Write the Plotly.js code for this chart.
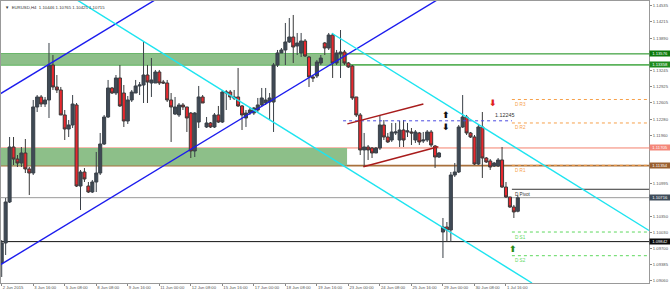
<!DOCTYPE html>
<html><head><meta charset="utf-8">
<script src="https://cdn.plot.ly/plotly-3.0.1.min.js"></script>
<style>html,body{margin:0;padding:0;background:#fff;}#chart{width:670px;height:292px;}</style>
</head><body><div id="chart"></div>
<script>
// ---- H4 candles, EURUSD 2 Jun - 1 Jul 2015 ----
const opens = [1.09417,1.09815,1.10630,1.11724,1.11485,1.11406,1.11605,1.11287,1.11207,1.12520,
1.12719,1.12579,1.12659,1.13355,1.12918,1.12858,1.12361,1.12082,1.12162,1.12560,
1.10948,1.11227,1.10948,1.10829,1.11028,1.11207,1.11784,1.12321,1.12898,1.12798,
1.13097,1.12798,1.12241,1.12659,1.12798,1.12938,1.12957,1.13156,1.12997,1.12997,
1.13216,1.13017,1.12997,1.12659,1.12380,1.12361,1.12560,1.12520,1.12400,1.11645,
1.12221,1.12719,1.12122,1.12202,1.12122,1.12361,1.12221,1.12798,1.12818,1.12719,
1.12719,1.12540,1.12301,1.12400,1.12400,1.12460,1.12560,1.12599,1.12619,1.12619,
1.13355,1.13594,1.13654,1.13813,1.13912,1.13733,1.13594,1.13833,1.13514,1.13117,
1.13136,1.13395,1.13793,1.13693,1.13952,1.13395,1.13574,1.13614,1.13395,1.13335,
1.12719,1.12361,1.11665,1.11724,1.11704,1.11605,1.11704,1.12162,1.11923,1.11863,
1.12003,1.11863,1.12062,1.12023,1.12023,1.11863,1.12003,1.11844,1.11863,1.12023,
1.11744,1.11525,1.10033,1.10133,1.10073,1.11167,1.11227,1.12122,1.12321,1.12003,
1.11923,1.11386,1.12122,1.11505,1.11446,1.11346,1.11346,1.11466,1.10928,1.10730,
1.10531,1.10446];
const highs = [1.09874,1.10710,1.11923,1.11923,1.11565,1.11724,1.11883,1.11326,1.12659,1.12758,
1.12758,1.12719,1.13793,1.13554,1.13156,1.12918,1.12460,1.12261,1.12758,1.12599,
1.11267,1.11306,1.11028,1.11068,1.11625,1.12003,1.12361,1.13057,1.12918,1.13156,
1.13355,1.12957,1.12738,1.12858,1.13057,1.13017,1.13813,1.13355,1.13494,1.13256,
1.13256,1.13057,1.13057,1.12798,1.12719,1.12599,1.12599,1.12520,1.12420,1.12420,
1.12938,1.12758,1.12321,1.12221,1.12400,1.12540,1.12858,1.12858,1.12858,1.12858,
1.13296,1.12560,1.12460,1.12520,1.12520,1.12699,1.12898,1.12898,1.12798,1.13395,
1.13654,1.13693,1.14191,1.14290,1.14350,1.13992,1.13992,1.13872,1.13534,1.13156,
1.13455,1.13554,1.13813,1.13992,1.13992,1.13654,1.14051,1.13654,1.13415,1.13355,
1.12719,1.12400,1.12003,1.11764,1.11724,1.11724,1.12361,1.12261,1.12003,1.12202,
1.12202,1.12241,1.12261,1.12202,1.12102,1.12062,1.12023,1.12023,1.12062,1.12062,
1.11764,1.11625,1.10312,1.10232,1.11227,1.11406,1.12162,1.12758,1.12361,1.12023,
1.11963,1.12182,1.12420,1.11525,1.11485,1.11426,1.11505,1.11724,1.11028,1.10730,
1.10571,1.10765];
const lows = [1.09139,1.09576,1.10610,1.11366,1.11326,1.11326,1.11207,1.10769,1.11167,1.12420,
1.12520,1.12520,1.12301,1.12858,1.12798,1.12361,1.11863,1.11923,1.12102,1.10928,
1.10471,1.11028,1.10809,1.10809,1.10829,1.11167,1.11764,1.12301,1.12778,1.12758,
1.12520,1.12122,1.12182,1.12619,1.12798,1.12758,1.12599,1.12599,1.12719,1.12997,
1.12957,1.12977,1.12619,1.11824,1.12361,1.12321,1.12460,1.12023,1.11505,1.11525,
1.12102,1.12599,1.12102,1.12102,1.12102,1.12202,1.12202,1.12460,1.12659,1.12659,
1.12520,1.12062,1.12122,1.12361,1.12361,1.12420,1.12520,1.12560,1.12261,1.12023,
1.13315,1.13594,1.13355,1.13793,1.13395,1.13554,1.13514,1.13514,1.12918,1.13017,
1.13097,1.13355,1.13554,1.13654,1.13097,1.13355,1.13097,1.13355,1.13296,1.12659,
1.12321,1.11565,1.11326,1.11466,1.11505,1.11605,1.11665,1.11863,1.11804,1.11824,
1.11963,1.11724,1.11724,1.11923,1.11764,1.11804,1.11764,1.11804,1.11824,1.11724,
1.11307,1.11505,1.09516,1.09835,1.09835,1.11128,1.11207,1.12102,1.11963,1.11903,
1.11366,1.11366,1.11108,1.11406,1.11267,1.11326,1.11326,1.10908,1.10710,1.10511,
1.10312,1.10425];
const closes = [1.09815,1.10630,1.11724,1.11485,1.11406,1.11605,1.11287,1.11207,1.12520,1.12719,
1.12579,1.12659,1.13355,1.12918,1.12858,1.12361,1.12082,1.12162,1.12579,1.10948,
1.11227,1.11088,1.10829,1.11028,1.11207,1.11784,1.12321,1.12898,1.12798,1.13097,
1.12540,1.12241,1.12659,1.12818,1.12938,1.12957,1.13156,1.13017,1.13057,1.13216,
1.12997,1.12997,1.12659,1.12520,1.12520,1.12560,1.12520,1.12301,1.11645,1.12400,
1.12719,1.12599,1.12202,1.12122,1.12361,1.12221,1.12818,1.12818,1.12719,1.12699,
1.12540,1.12361,1.12400,1.12460,1.12500,1.12560,1.12699,1.12659,1.12699,1.13355,
1.13594,1.13654,1.13813,1.13912,1.13713,1.13793,1.13833,1.13534,1.13117,1.13097,
1.13415,1.13494,1.13693,1.13952,1.13395,1.13594,1.13614,1.13395,1.13315,1.12699,
1.12361,1.11665,1.11724,1.11665,1.11605,1.11704,1.12162,1.11923,1.11824,1.12023,
1.12023,1.12062,1.11863,1.12043,1.12003,1.12023,1.11824,1.11863,1.12023,1.11764,
1.11525,1.11605,1.10133,1.10073,1.11167,1.11227,1.12122,1.12321,1.12003,1.11923,
1.11386,1.12122,1.11505,1.11426,1.11326,1.11406,1.11466,1.10928,1.10730,1.10531,
1.10432,1.10715];

// ---- axis labels ----
const timeTickLabels = ["2 Jun 2015","3 Jun 16:00","5 Jun 08:00","8 Jun 08:00","9 Jun 16:00","11 Jun 00:00",
"12 Jun 08:00","15 Jun 16:00","17 Jun 00:00","18 Jun 08:00","19 Jun 16:00","23 Jun 00:00",
"24 Jun 08:00","25 Jun 16:00","29 Jun 00:00","30 Jun 08:00","1 Jul 16:00"];
const timeTickBars = [0,8,16,24,32,40,48,56,64,72,80,88,96,104,112,120,128];
// price scale labels visible in the picture (others are covered by the level boxes)
const priceTicks = [1.14535,1.14215,1.13890,1.13245,1.12925,1.12605,1.12280,1.11960,
1.10995,1.10350,1.10030,1.09700,1.09385,1.09060];

// ---- drawn objects ----
const zones = [[1.13358,1.13576],[1.11354,1.11705]];
const zoneEndBar = 87.66;
const levelPrices = [1.13576,1.13358,1.11705,1.11354,1.10716,1.09842];
const levelColors = ['#118a11','#5cb35c','#f4806c','#a8703c','#9a9a9a','#111111'];
const levelBoxColors = ['#0b7a0b','#1e8c1e','#f4877a','#9a6030','#3e4c5a','#0a0a0a'];
const pivotNames = ['D R3','D R2','D R1','D Pivot','D S1','D S2'];
const pivotPrices = [1.12669,1.12202,1.11360,1.10883,1.10033,1.09562];
const pivotColors = ['#f6a04a','#f6a04a','#f6a04a','#333333','#5ed85e','#5ed85e'];
const pivotStartBar = 129.5;
const blueLines = [[-0.43,1.12778,38.9,1.14648],[-0.43,1.09377,110.5,1.14648]];
const cyanLines = [[19.12,1.14648,134.6,1.09019],[83.78,1.13986,164.3,1.10063]];
const redLines = [[87.74,1.12184,107.03,1.12579],[91.8,1.11332,110.84,1.11730]];
const markLevel = 1.12245, markStart = 86.65;
const arrows = [[112.8,1.12361,'⬆','#111'],[112.8,1.12128,'⬇','#111'],[124.7,1.12599,'⬇','#e02020'],[129.7,1.09689,'⬆','#2a8a1a']];

const bars = opens.map((_, i) => i);
const xr = [-0.18, 164.3];
const font = 'Liberation Sans, Arial, sans-serif';

const shapes = [];
zones.forEach(z => shapes.push({type:'rect', xref:'x', yref:'y', x0:xr[0], x1:zoneEndBar, y0:z[0], y1:z[1],
  fillcolor:'#8dbf89', line:{width:0}, layer:'below'}));
levelPrices.forEach((p, i) => shapes.push({type:'line', xref:'paper', yref:'y', x0:0, x1:1, y0:p, y1:p,
  line:{color:levelColors[i], width: (i===1 || i===3) ? 1.6 : 1}, layer:'below'}));
pivotPrices.forEach((p, i) => shapes.push({type:'line', xref:'x', yref:'y', x0:pivotStartBar, x1:xr[1], y0:p, y1:p,
  line:{color:pivotColors[i], width:1, dash: i===3 ? 'solid' : 'dot'}}));
shapes.push({type:'line', xref:'x', yref:'y', x0:markStart, x1:pivotStartBar, y0:markLevel, y1:markLevel,
  line:{color:'#4a4ae0', width:1, dash:'dot'}});
blueLines.forEach(l => shapes.push({type:'line', xref:'x', yref:'y', x0:l[0], y0:l[1], x1:l[2], y1:l[3], line:{color:'#1c1cee', width:1.4}}));
cyanLines.forEach(l => shapes.push({type:'line', xref:'x', yref:'y', x0:l[0], y0:l[1], x1:l[2], y1:l[3], line:{color:'#1ee4f0', width:1.4}}));
redLines.forEach(l => shapes.push({type:'line', xref:'x', yref:'y', x0:l[0], y0:l[1], x1:l[2], y1:l[3], line:{color:'#a81c1c', width:1.4}}));

const annotations = [];
annotations.push({xref:'paper', yref:'paper', x:0, y:1, xanchor:'left', yanchor:'top', xshift:2, yshift:-2,
  text:'▼  EURUSD,H4  1.10446 1.10765 1.10425 1.10715', showarrow:false, font:{family:font, size:4.3, color:'#333'}});
levelPrices.forEach((p, i) => annotations.push({xref:'paper', yref:'y', x:1, y:p, xanchor:'left', yanchor:'middle',
  xshift:0, text:p.toFixed(5), showarrow:false, bgcolor:levelBoxColors[i], width:19, height:4, borderpad:0.6,
  font:{family:font, size:4.2, color:'#ffffff'}}));
pivotPrices.forEach((p, i) => annotations.push({xref:'x', yref:'y', x:pivotStartBar, y:p, xanchor:'left', yanchor:'top',
  xshift:1, yshift:-0.5, text:pivotNames[i], showarrow:false, font:{family:font, size:4.6, color:pivotColors[i]}}));
annotations.push({xref:'x', yref:'y', x:124.7, y:1.12361, xanchor:'left', yanchor:'middle', text:'1.12245',
  showarrow:false, font:{family:font, size:5.4, color:'#333'}});
arrows.forEach(a => annotations.push({xref:'x', yref:'y', x:a[0], y:a[1], text:'<b>' + a[2] + '</b>', showarrow:false,
  font:{family:'DejaVu Sans', size:9, color:a[3]}}));

const trace = {
  type:'candlestick', x:bars, open:opens, high:highs, low:lows, close:closes,
  increasing:{line:{color:'#3a4048', width:1}, fillcolor:'#3f4a56'},
  decreasing:{line:{color:'#3a3a3a', width:1}, fillcolor:'#e8282e'},
  whiskerwidth:0, hoverinfo:'skip', showlegend:false
};

const layout = {
  width:670, height:292, margin:{l:1, r:21, t:1, b:9},
  paper_bgcolor:'#ffffff', plot_bgcolor:'#ffffff', showlegend:false,
  boxgap:0.12, boxgroupgap:0.12,
  xaxis:{range:xr, rangeslider:{visible:false}, showgrid:false, zeroline:false,
    tickvals:timeTickBars, ticktext:timeTickLabels, tickangle:0, ticks:'outside', ticklen:1.5, tickcolor:'#888',
    ticklabelposition:'outside right', ticklabelstandoff:0, tickfont:{family:font, size:4.2, color:'#555'},
    showline:true, linecolor:'#999', linewidth:1, mirror:true, automargin:false},
  yaxis:{range:[1.09019, 1.14628], side:'right', showgrid:false, zeroline:false,
    tickvals:priceTicks, ticktext:priceTicks.map(v => v.toFixed(5)), ticks:'outside', ticklen:2, tickcolor:'#888',
    tickfont:{family:font, size:4.2, color:'#555'}, showline:true, linecolor:'#999', linewidth:1, mirror:true, automargin:false},
  shapes:shapes, annotations:annotations
};

Plotly.newPlot('chart', [trace], layout, {displayModeBar:false, staticPlot:true});
</script></body></html>
